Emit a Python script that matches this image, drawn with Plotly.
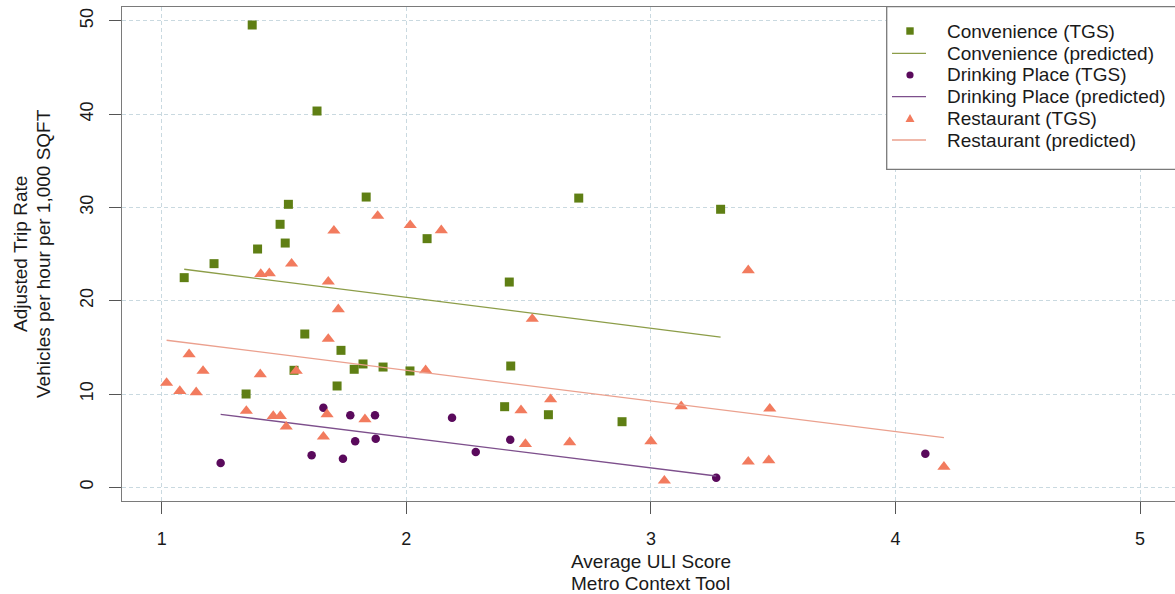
import plotly.graph_objects as go

# ---------------- data ----------------
conv_x = [1.370, 1.635, 1.836, 1.518, 1.484, 1.505, 1.392, 1.214, 1.092, 1.585, 1.733, 1.823, 1.787,
          1.905, 2.015, 1.541, 1.717, 1.345, 2.705, 3.285, 2.085, 2.421, 2.427, 2.402, 2.581, 2.882]
conv_y = [49.55, 40.33, 31.11, 30.33, 28.19, 26.18, 25.54, 23.97, 22.47, 16.43, 14.68, 13.22, 12.65,
          12.89, 12.47, 12.54, 10.86, 10.0, 31.0, 29.8, 26.65, 22.0, 13.0, 8.64, 7.78, 7.03]

drink_x = [1.661, 1.771, 1.872, 1.875, 1.791, 1.613, 1.741, 1.241, 2.187, 2.425, 2.284, 3.267, 4.122]
drink_y = [8.53, 7.72, 7.72, 5.21, 4.93, 3.43, 3.07, 2.6, 7.46, 5.1, 3.78, 1.03, 3.6]

rest_x = [1.883, 2.016, 1.704, 1.531, 1.405, 1.44, 1.681, 1.722, 1.681, 1.112, 1.169, 1.403, 1.55,
          1.02, 1.074, 1.141, 1.346, 1.456, 1.485, 1.509, 1.676, 1.831, 1.661, 2.143, 3.398, 2.515,
          2.079, 2.59, 3.124, 3.486, 2.469, 2.487, 2.668, 3.0, 3.398, 3.482, 3.055, 4.198]
rest_y = [29.08, 28.1, 27.5, 23.97, 22.86, 22.93, 22.04, 19.08, 15.9, 14.25, 12.47, 12.11, 12.47,
          11.18, 10.32, 10.18, 8.18, 7.64, 7.64, 6.5, 7.82, 7.29, 5.42, 27.55, 23.26, 18.04,
          12.54, 9.43, 8.68, 8.42, 8.25, 4.64, 4.82, 4.93, 2.74, 2.89, 0.71, 2.2]

conv_pred_x = [1.092, 3.285]
conv_pred_y = [23.37, 16.1]
drink_pred_x = [1.241, 3.267]
drink_pred_y = [7.82, 1.21]
rest_pred_x = [1.02, 4.198]
rest_pred_y = [15.76, 5.32]

x_ticks = [1, 2, 3, 4, 5]
y_ticks = [0, 10, 20, 30, 40, 50]

legend_labels = ["Convenience (TGS)", "Convenience (predicted)", "Drinking Place (TGS)",
                 "Drinking Place (predicted)", "Restaurant (TGS)", "Restaurant (predicted)"]

# ---------------- styling ----------------
C_CONV = "#5f7f14"
C_DRINK = "#5a0a5c"
C_REST = "#f27b5e"
L_CONV = "#8c9d48"
L_DRINK = "#7d4f8c"
L_REST = "#eba08e"
FONT = "Liberation Sans, Arial, sans-serif"

W, H = 1175, 594
ML, MR, MT, MB = 122, 0, 7, 93
PW, PH = W - ML - MR, H - MT - MB


def px(xp):
    return (xp - ML) / PW


def py(yp):
    return (H - MB - yp) / PH


fig = go.Figure()
fig.add_trace(go.Scatter(x=conv_x, y=conv_y, mode="markers", name=legend_labels[0],
                         marker=dict(symbol="square", size=9, color=C_CONV)))
fig.add_trace(go.Scatter(x=conv_pred_x, y=conv_pred_y, mode="lines", name=legend_labels[1],
                         line=dict(color=L_CONV, width=1.3)))
fig.add_trace(go.Scatter(x=drink_x, y=drink_y, mode="markers", name=legend_labels[2],
                         marker=dict(symbol="circle", size=8.5, color=C_DRINK)))
fig.add_trace(go.Scatter(x=drink_pred_x, y=drink_pred_y, mode="lines", name=legend_labels[3],
                         line=dict(color=L_DRINK, width=1.3)))
fig.add_trace(go.Scatter(x=rest_x, y=rest_y, mode="markers", name=legend_labels[4],
                         marker=dict(symbol="triangle-up", size=11.5, color=C_REST)))
fig.add_trace(go.Scatter(x=rest_pred_x, y=rest_pred_y, mode="lines", name=legend_labels[5],
                         line=dict(color=L_REST, width=1.3)))

x0 = 1 - (161.7 - ML) / 244.6
x1 = x0 + PW / 244.6
y0 = (487.3 - (H - MB)) / 9.33
y1 = y0 + PH / 9.33

axis_common = dict(
    showline=True, linecolor="#7a7a7a", linewidth=1.3,
    ticks="outside", ticklen=12, tickcolor="#555555", tickwidth=1.2,
    showgrid=True, gridcolor="#c9d9e0", gridwidth=1, griddash="4px,3px",
    zeroline=False, tickfont=dict(family=FONT, size=18, color="#1a1a1a"),
)

fig.update_xaxes(range=[x0, x1], tickvals=x_ticks, ticktext=[str(v) for v in x_ticks],
                 mirror=True, ticklabelstandoff=9, **axis_common)
fig.update_yaxes(range=[y0, y1], tickvals=y_ticks, ticktext=[str(v) for v in y_ticks],
                 mirror=False, tickangle=-90, ticklabelstandoff=9, **axis_common)

shapes = []
annotations = []

# legend box
shapes.append(dict(type="rect", xref="paper", yref="paper", x0=px(886.7), x1=px(1185),
                   y0=py(169.3), y1=py(6.7), line=dict(color="#7a7a7a", width=1.3),
                   fillcolor="white", layer="above"))
rows = [31.0, 53.3, 75.0, 96.7, 118.3, 140.0]
sym_x = 910
text_x = 945
# symbols
s = 3.7
shapes.append(dict(type="rect", xref="paper", yref="paper", x0=px(sym_x - s), x1=px(sym_x + s),
                   y0=py(rows[0] + s), y1=py(rows[0] - s), line=dict(width=0),
                   fillcolor=C_CONV, layer="above"))
shapes.append(dict(type="line", xref="paper", yref="paper", x0=px(892), x1=px(926),
                   y0=py(rows[1]), y1=py(rows[1]), line=dict(color=L_CONV, width=1.3), layer="above"))
c = 3.6
shapes.append(dict(type="circle", xref="paper", yref="paper", x0=px(sym_x - c), x1=px(sym_x + c),
                   y0=py(rows[2] + c), y1=py(rows[2] - c), line=dict(width=0),
                   fillcolor=C_DRINK, layer="above"))
shapes.append(dict(type="line", xref="paper", yref="paper", x0=px(892), x1=px(926),
                   y0=py(rows[3]), y1=py(rows[3]), line=dict(color=L_DRINK, width=1.3), layer="above"))
t = 4.5
tri = "M {},{} L {},{} L {},{} Z".format(px(sym_x - t), py(rows[4] + 3.6), px(sym_x + t),
                                         py(rows[4] + 3.6), px(sym_x), py(rows[4] - 4.2))
shapes.append(dict(type="path", xref="paper", yref="paper", path=tri, line=dict(width=0),
                   fillcolor=C_REST, layer="above"))
shapes.append(dict(type="line", xref="paper", yref="paper", x0=px(892), x1=px(926),
                   y0=py(rows[5]), y1=py(rows[5]), line=dict(color=L_REST, width=1.3), layer="above"))

for lab, r in zip(legend_labels, rows):
    annotations.append(dict(text=lab, xref="paper", yref="paper", x=px(text_x), y=py(r),
                            xanchor="left", yanchor="middle", showarrow=False,
                            font=dict(family=FONT, size=19, color="#1a1a1a")))

# axis titles
annotations.append(dict(text="Average ULI Score", xref="paper", yref="paper", x=px(650.8), y=py(561.7),
                        xanchor="center", yanchor="middle", showarrow=False,
                        font=dict(family=FONT, size=19, color="#1a1a1a")))
annotations.append(dict(text="Metro Context Tool", xref="paper", yref="paper", x=px(650.8), y=py(583.5),
                        xanchor="center", yanchor="middle", showarrow=False,
                        font=dict(family=FONT, size=19, color="#1a1a1a")))
annotations.append(dict(text="Adjusted Trip Rate", xref="paper", yref="paper", x=px(20), y=py(254),
                        xanchor="center", yanchor="middle", showarrow=False, textangle=-90,
                        font=dict(family=FONT, size=19, color="#1a1a1a")))
annotations.append(dict(text="Vehicles per hour per 1,000 SQFT", xref="paper", yref="paper", x=px(43),
                        y=py(254), xanchor="center", yanchor="middle", showarrow=False, textangle=-90,
                        font=dict(family=FONT, size=19, color="#1a1a1a")))

fig.update_layout(
    width=W, height=H,
    margin=dict(l=ML, r=MR, t=MT, b=MB),
    paper_bgcolor="white", plot_bgcolor="white",
    showlegend=False,
    shapes=shapes, annotations=annotations,
    font=dict(family=FONT),
)

fig.write_html("out.html", include_plotlyjs=True)
